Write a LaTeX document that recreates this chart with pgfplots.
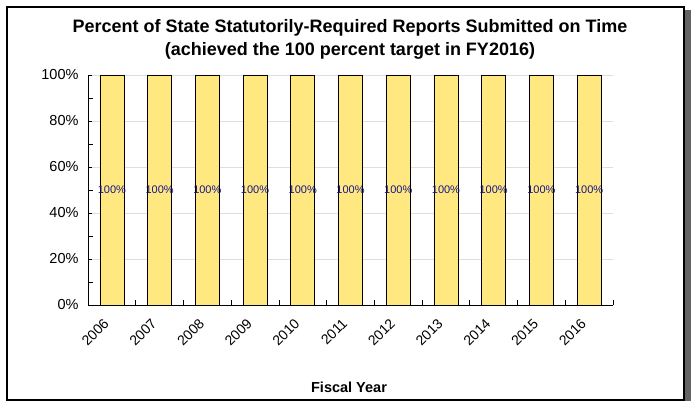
\documentclass[border=0pt]{standalone}
\usepackage{pgfplots}
\pgfplotsset{compat=1.18}
\usepackage{fontspec}
\setmainfont{Liberation Sans}
\definecolor{baryellow}{RGB}{255,232,128}
\definecolor{gridgray}{RGB}{222,222,222}
\definecolor{labnavy}{RGB}{20,20,140}
\definecolor{shadowgray}{RGB}{100,100,100}
\begin{document}
\begin{tikzpicture}[x=1pt,y=1pt]
\useasboundingbox (0,0) rectangle (691,401);
\fill[white] (0,0) rectangle (691,401);
\fill[shadowgray] (684,0) rectangle (691,391);
\draw[line width=1.2pt] (7,1) rectangle (684,394);
\node[font=\fontsize{18}{20}\selectfont\bfseries] at (350,373) {Percent of State Statutorily-Required Reports Submitted on Time};
\node[font=\fontsize{18}{20}\selectfont\bfseries] at (350,350) {(achieved the 100 percent target in FY2016)};
\node[font=\fontsize{14.5}{16}\selectfont\bfseries] at (349,14) {Fiscal Year};
\begin{axis}[
  at={(88pt,96pt)}, anchor=south west,
  scale only axis, width=525pt, height=230pt,
  xmin=-0.5, xmax=10.5, ymin=0, ymax=100,
  axis x line*=bottom, axis y line*=left,
  axis line style={black, line width=0.8pt},
  xtick={0,...,10},
  xticklabels={2006,2007,2008,2009,2010,2011,2012,2013,2014,2015,2016},
  minor xtick={0.5,1.5,...,10.5},
  major x tick style={draw=none},
  minor x tick style={black, line width=0.8pt},
  minor tick length=5pt,
  major tick length=4pt,
  tick align=inside,
  ytick={0,20,...,100},
  minor ytick={10,30,...,90},
  y tick style={black, line width=0.8pt},
  ymajorgrids, grid style={gridgray, line width=0.8pt},
  yticklabel={\pgfmathprintnumber{\tick}\%},
  /pgf/number format/assume math mode=true,
  yticklabel style={font=\fontsize{14.5}{16}\selectfont, xshift=-6pt},
  xticklabel style={font=\fontsize{14}{16}\selectfont, rotate=45, anchor=north east, xshift=-12pt, yshift=1pt},
  clip=false,
]
\addplot[ybar, bar width=24pt, fill=baryellow, draw=black, line width=0.7pt]
  coordinates {(0,100) (1,100) (2,100) (3,100) (4,100) (5,100) (6,100) (7,100) (8,100) (9,100) (10,100)};
\addplot[draw=none, mark=none, nodes near coords={100\%}, nodes near coords align={center},
  every node near coord/.append style={font=\fontsize{11}{12}\selectfont, text=labnavy}]
  coordinates {(0,50) (1,50) (2,50) (3,50) (4,50) (5,50) (6,50) (7,50) (8,50) (9,50) (10,50)};
\end{axis}
\end{tikzpicture}
\end{document}
